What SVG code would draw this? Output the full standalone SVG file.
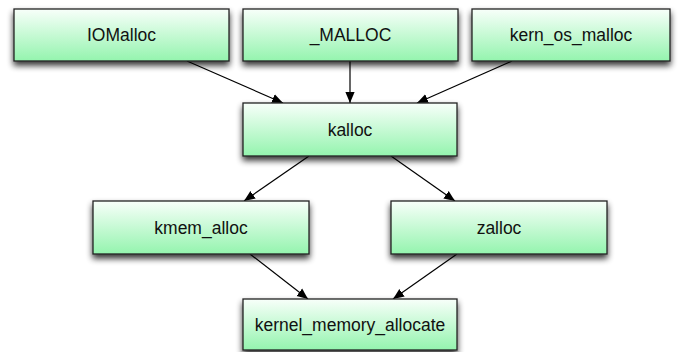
<svg xmlns="http://www.w3.org/2000/svg" width="678" height="352" viewBox="0 0 678 352">
<defs>
<linearGradient id="g" x1="0" y1="0" x2="0" y2="1">
<stop offset="0" stop-color="#f8fffa"/>
<stop offset="1" stop-color="#94f4ae"/>
</linearGradient>
<filter id="sh" x="-10%" y="-20%" width="125%" height="170%">
<feGaussianBlur in="SourceAlpha" stdDeviation="3"/>
<feOffset dx="0" dy="4" result="b"/>
<feComponentTransfer><feFuncA type="linear" slope="0.8"/></feComponentTransfer>
<feMerge><feMergeNode/><feMergeNode in="SourceGraphic"/></feMerge>
</filter>
<marker id="ah" viewBox="0 0 10 10" refX="10" refY="5" markerWidth="11" markerHeight="11" markerUnits="userSpaceOnUse" orient="auto">
<path d="M0,0.8 L10,5 L0,9.2 Z" fill="#000"/>
</marker>
<style>
.box{fill:url(#g);stroke:#222;stroke-width:1.3;filter:url(#sh)}
.lbl{font-family:"Liberation Sans",Arial,sans-serif;font-size:17.5px;fill:#111;text-anchor:middle;dominant-baseline:central}
.e{stroke:#000;stroke-width:1.2;fill:none;marker-end:url(#ah)}
</style>
</defs>
<rect width="678" height="352" fill="#fff"/>
<g id="connectors">
<line class="e" x1="187" y1="61" x2="283" y2="103"/>
<line class="e" x1="350" y1="61" x2="350" y2="103"/>
<line class="e" x1="512" y1="61" x2="417" y2="103"/>
<line class="e" x1="309" y1="156" x2="244" y2="201"/>
<line class="e" x1="391" y1="156" x2="455" y2="201"/>
<line class="e" x1="250" y1="254" x2="308" y2="299"/>
<line class="e" x1="457" y1="254" x2="393" y2="299"/>
</g>
<g id="IOMalloc"><rect class="box" x="14" y="9" width="215" height="52"/><text class="lbl" x="121.5" y="35">IOMalloc</text></g>
<g id="_MALLOC"><rect class="box" x="243" y="9" width="215" height="52"/><text class="lbl" x="350.5" y="35">_MALLOC</text></g>
<g id="kern_os_malloc"><rect class="box" x="472" y="9" width="198" height="52"/><text class="lbl" x="571" y="35">kern_os_malloc</text></g>
<g id="kalloc"><rect class="box" x="243" y="103" width="214" height="53"/><text class="lbl" x="350" y="129.5">kalloc</text></g>
<g id="kmem_alloc"><rect class="box" x="93" y="201" width="216" height="53"/><text class="lbl" x="201" y="227.5">kmem_alloc</text></g>
<g id="zalloc"><rect class="box" x="391" y="201" width="216" height="53"/><text class="lbl" x="499" y="227.5">zalloc</text></g>
<g id="kernel_memory_allocate"><rect class="box" x="243" y="299" width="214" height="51"/><text class="lbl" x="350" y="325">kernel_memory_allocate</text></g>
</svg>
